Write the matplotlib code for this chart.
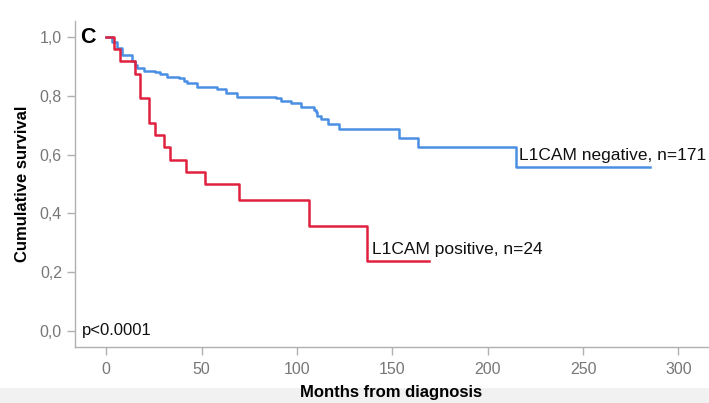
import matplotlib
matplotlib.use("Agg")
import matplotlib.pyplot as plt
from matplotlib.patches import Rectangle
from matplotlib.ticker import FuncFormatter

plt.rcParams["font.family"] = ["Liberation Sans", "DejaVu Sans"]

# Kaplan-Meier step data (months, cumulative survival after each event)
neg_months = [0, 3.0, 5.6, 8.2, 13.5, 15.2, 16.1, 19.6, 25.7, 28.4, 31.9, 38.0,
              40.6, 42.4, 47.7, 58.2, 62.7, 68.7, 88.8, 91.4, 96.7, 102.0,
              108.9, 109.8, 110.7, 112.5, 116.0, 122.1, 153.6, 163.3, 214.9, 285.0]
neg_surv = [1.0, 0.984, 0.961, 0.939, 0.919, 0.905, 0.893, 0.885, 0.880, 0.873,
            0.865, 0.859, 0.851, 0.842, 0.829, 0.822, 0.808, 0.797, 0.791, 0.783,
            0.774, 0.763, 0.752, 0.743, 0.731, 0.720, 0.704, 0.686, 0.655, 0.625,
            0.557, 0.557]

pos_months = [0, 3.9, 7.0, 15.2, 17.5, 22.2, 25.7, 30.5, 33.3, 42.0, 52.0,
              69.5, 106.3, 136.6, 169.0]
pos_surv = [1.0, 0.958, 0.917, 0.875, 0.792, 0.708, 0.667, 0.625, 0.583,
            0.542, 0.500, 0.446, 0.357, 0.238, 0.238]

neg_label = "L1CAM negative, n=171"
pos_label = "L1CAM positive, n=24"
x_ticks = [0, 50, 100, 150, 200, 250, 300]
y_ticks = [0.0, 0.2, 0.4, 0.6, 0.8, 1.0]

BLUE = "#4a8fe3"
RED = "#e0203f"
NARROW = ["Liberation Sans Narrow", "Liberation Sans", "DejaVu Sans"]

fig = plt.figure(figsize=(7.09, 4.03), dpi=100)
fig.patches.append(Rectangle((0, 0), 1, 15 / 403, transform=fig.transFigure,
                             facecolor="#f1f1f1", edgecolor="none", zorder=0))
ax = fig.add_axes([0.106, 0.139, 0.894, 0.809])

ax.step(neg_months, neg_surv, where="post", color=BLUE, lw=1.8, zorder=2)
ax.step(pos_months, pos_surv, where="post", color=RED, lw=1.8, zorder=3)

ax.text(neg_months[-2] + 1.5, neg_surv[-1] + 0.015, neg_label,
        fontsize=12.5, va="bottom", ha="left", color="#111")
ax.text(pos_months[-2] + 2.5, pos_surv[-1] + 0.015, pos_label,
        fontsize=12.5, va="bottom", ha="left", color="#111")

ax.text(0.011, 0.05, "p<0.0001", transform=ax.transAxes, fontsize=12,
        va="center", ha="left", color="#111")
ax.text(0.008, 0.95, "C", transform=ax.transAxes, fontsize=15.5,
        fontweight="bold", va="center", ha="left")

ax.set_xlim(-16.3, 316)
ax.set_ylim(-0.054, 1.054)
ax.set_xticks(x_ticks)
ax.set_yticks(y_ticks)
ax.yaxis.set_major_formatter(FuncFormatter(lambda v, _: f"{v:.1f}".replace(".", ",")))

for side in ("top", "right"):
    ax.spines[side].set_visible(False)
for side in ("left", "bottom"):
    ax.spines[side].set_color("#b0b0b0")
    ax.spines[side].set_linewidth(1.0)
ax.tick_params(axis="both", colors="#b0b0b0", labelcolor="#777", labelsize=11.5,
               length=6, width=1.0)
ax.tick_params(axis="x", pad=5)
for lbl in ax.get_xticklabels() + ax.get_yticklabels():
    lbl.set_family(NARROW)

fig.text(391 / 709, 1 - 392 / 403, "Months from diagnosis", fontsize=12,
         fontweight="bold", ha="center", va="center")
ax.set_ylabel("Cumulative survival", fontsize=12, fontweight="bold", labelpad=7)

fig.savefig("out.png", dpi=100)
